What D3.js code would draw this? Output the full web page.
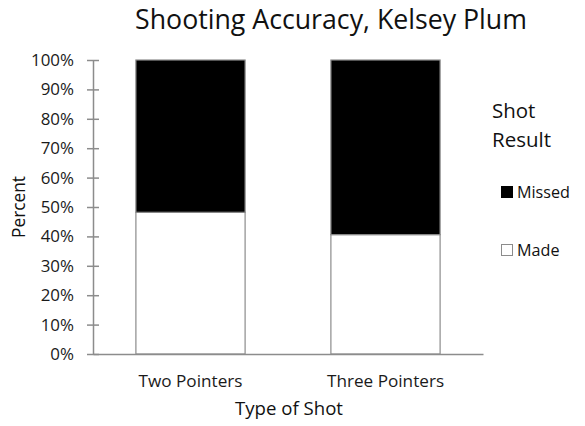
<!DOCTYPE html>
<html>
<head>
<meta charset="utf-8">
<script src="https://cdn.jsdelivr.net/npm/d3@7"></script>
<style>
  html, body { margin: 0; padding: 0; background: #fff; }
  svg { display: block; font-family: "Open Sans", sans-serif; }
</style>
</head>
<body>
<svg id="chart" width="585" height="426"></svg>
<script>
const categories = ["Two Pointers", "Three Pointers"];
const madePct = [0.482, 0.406];
const missedPct = [0.518, 0.594];
const seriesNames = ["Made", "Missed"];
const seriesColors = ["#ffffff", "#000000"];
const yTicks = [0, 0.1, 0.2, 0.3, 0.4, 0.5, 0.6, 0.7, 0.8, 0.9, 1.0];

const svg = d3.select("#chart");
const FONT = "'Open Sans', sans-serif";

// size a text so its width matches the reference width
function fit(sel, target) {
  sel.attr("font-size", 20);
  const len = sel.node().getComputedTextLength();
  const fs = 20 * target / len;
  sel.attr("font-size", fs);
  return fs;
}

const x = d3.scaleBand().domain(categories)
  .range([93, 483]).paddingInner(0.44).paddingOuter(0.22);
const y = d3.scaleLinear().domain([0, 1]).range([354, 60]);

const rows = categories.map((c, i) => ({cat: c, Made: madePct[i], Missed: missedPct[i]}));
const stack = d3.stack().keys(seriesNames)(rows);

// bars
svg.append("g").selectAll("g").data(stack).join("g")
  .attr("fill", (d, i) => seriesColors[i])
  .selectAll("rect").data(d => d).join("rect")
  .attr("x", d => x(d.data.cat))
  .attr("width", x.bandwidth())
  .attr("y", d => y(d[1]))
  .attr("height", d => y(d[0]) - y(d[1]))
  .attr("stroke", "#8c8c8c")
  .attr("stroke-width", 1.2);

// y axis
const yAxis = d3.axisLeft(y).tickValues(yTicks).tickFormat(d3.format(".0%"))
  .tickSizeInner(6).tickSizeOuter(0).tickPadding(13);
const gy = svg.append("g").attr("transform", "translate(93,0)").call(yAxis);
gy.select(".domain").attr("stroke", "#8c8c8c").attr("stroke-width", 1.5);
gy.selectAll(".tick line").attr("stroke", "#8c8c8c").attr("stroke-width", 1.5).attr("x2", 6).attr("x1", -6);
const yt = gy.selectAll(".tick text").attr("fill", "#1a1a1a").attr("font-family", FONT);
const tickFs = fit(gy.selectAll(".tick text").filter(d => d === 1), 43);
yt.attr("font-size", tickFs);

// x axis
const xAxis = d3.axisBottom(x).tickSize(0).tickPadding(20);
const gx = svg.append("g").attr("transform", `translate(0,${y(0)})`).call(xAxis);
gx.select(".domain").attr("stroke", "#8c8c8c").attr("stroke-width", 1.5);
const xt = gx.selectAll(".tick text").attr("fill", "#1a1a1a").attr("font-family", FONT)
  .attr("dy", null).attr("y", 33);
const xFs = fit(gx.selectAll(".tick text").filter(d => d === categories[0]), 104);
xt.attr("font-size", xFs);

// title
fit(svg.append("text").attr("x", 331).attr("y", 29).attr("text-anchor", "middle")
  .attr("fill", "#111").text("Shooting Accuracy, Kelsey Plum"), 392);

// axis titles
fit(svg.append("text").attr("x", 289).attr("y", 415).attr("text-anchor", "middle")
  .attr("fill", "#111").text("Type of Shot"), 108);
fit(svg.append("text").attr("transform", "translate(25,207) rotate(-90)").attr("text-anchor", "middle")
  .attr("fill", "#111").text("Percent"), 62);

// legend
const lg = svg.append("g");
const t1 = lg.append("text").attr("x", 492).attr("y", 118).attr("fill", "#111").text("Shot");
const t2 = lg.append("text").attr("x", 492).attr("y", 147).attr("fill", "#111").text("Result");
const lfs = fit(t2, 59);
t1.attr("font-size", lfs);
const legendItems = [
  {name: seriesNames[1], color: seriesColors[1], y: 198},
  {name: seriesNames[0], color: seriesColors[0], y: 256}
];
let itemFs = null;
legendItems.forEach(it => {
  lg.append("rect").attr("x", 501.5).attr("y", it.y - 11.5).attr("width", 11).attr("height", 11)
    .attr("fill", it.color).attr("stroke", it.color === "#000000" ? "#000" : "#8c8c8c").attr("stroke-width", 1);
  const t = lg.append("text").attr("x", 517).attr("y", it.y).attr("fill", "#111").text(it.name);
  if (itemFs === null) itemFs = fit(t, 53); else t.attr("font-size", itemFs);
});
</script>
</body>
</html>
